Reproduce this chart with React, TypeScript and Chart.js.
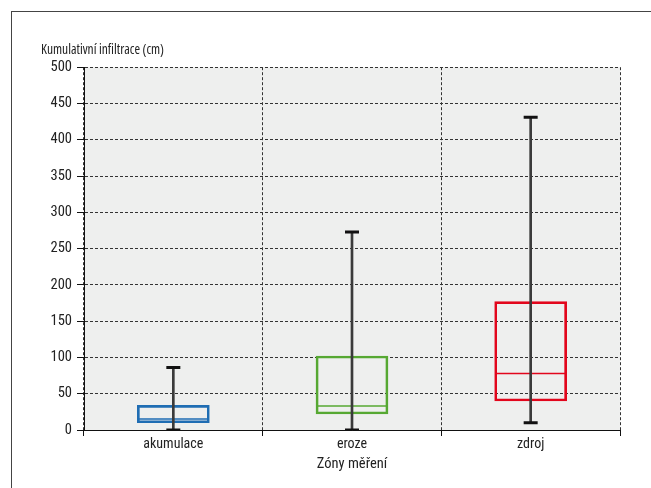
import React, { useEffect, useRef } from "react";
import { Chart, registerables } from "chart.js";

Chart.register(...registerables);

const categories = ["akumulace", "eroze", "zdroj"];
const minValues = [0, 0, 10];
const q1Values = [10, 22, 40];
const medianValues = [15, 33, 78];
const q3Values = [34, 102, 177];
const maxValues = [86, 273, 431];
const yMin = 0;
const yMax = 500;
const yStep = 50;
const yAxisTitle = "Kumulativní infiltrace (cm)";
const xAxisTitle = "Zóny měření";
const boxColors = ["#1f6db3", "#56a832", "#e2061c"];

const FONT = '"Roboto Condensed", Roboto, sans-serif';
const TITLE_FONT = '"Open Sans", sans-serif';

const bgPlugin = {
  id: "plotBg",
  beforeDraw(chart: any) {
    const { ctx, chartArea } = chart;
    if (!chartArea) return;
    ctx.save();
    ctx.fillStyle = "#eeefee";
    ctx.fillRect(chartArea.left, chartArea.top, chartArea.right - chartArea.left, chartArea.bottom - chartArea.top);
    ctx.restore();
  },
};

export default function App() {
  const ref = useRef<HTMLCanvasElement | null>(null);

  useEffect(() => {
    if (!ref.current) return;
    Chart.defaults.font.family = FONT;
    const capStyle = {
      type: "line",
      showLine: false,
      pointStyle: "line",
      pointRadius: 7,
      pointHoverRadius: 7,
      pointBorderWidth: 3,
      pointBorderColor: "#111",
      borderColor: "#111",
      clip: 0,
    };
    const chart = new Chart(ref.current, {
      type: "bar",
      data: {
        labels: categories,
        datasets: [
          { ...capStyle, data: maxValues } as any,
          { ...capStyle, data: minValues } as any,
          {
            type: "bar",
            data: minValues.map((m, i) => [m, maxValues[i]]),
            backgroundColor: "#3a3a3a",
            borderWidth: 0,
            barThickness: 2,
            grouped: false,
          } as any,
          {
            type: "line",
            data: medianValues,
            showLine: false,
            pointStyle: "line",
            pointRadius: 35,
            pointHoverRadius: 35,
            pointBorderWidth: 1.5,
            pointBorderColor: boxColors,
            borderColor: boxColors,
          } as any,
          {
            type: "bar",
            data: q1Values.map((q, i) => [q, q3Values[i]]),
            backgroundColor: "rgba(0,0,0,0)",
            borderColor: boxColors,
            borderWidth: 2,
            borderSkipped: false,
            barThickness: 72,
            grouped: false,
          } as any,
        ],
      },
      options: {
        animation: false,
        responsive: true,
        maintainAspectRatio: false,
        layout: { autoPadding: false, padding: { left: 41, right: 31, top: 0, bottom: 0 } } as any,
        plugins: {
          legend: { display: false },
          tooltip: { enabled: false },
          title: {
            display: true,
            text: yAxisTitle,
            align: "start",
            color: "#222",
            font: { size: 13.5, weight: "condensed", family: TITLE_FONT } as any,
            padding: { top: 42, bottom: 9 },
          },
        },
        scales: {
          x: {
            offset: true,
            afterFit: (s: any) => {
              s.height = 58;
            },
            grid: {
              offset: true,
              color: "#333",
              lineWidth: 1,
              tickLength: 6,
              tickColor: "#111",
              tickWidth: 1,
              tickBorderDash: [],
            } as any,
            border: { display: true, color: "#111", width: 1, dash: [3, 2], z: 1 } as any,
            ticks: { color: "#222", font: { size: 14, family: FONT }, padding: 0 },
            title: {
              display: true,
              text: xAxisTitle,
              color: "#222",
              font: { size: 14.5, family: FONT },
              padding: { top: 0, bottom: 15 },
            },
          },
          y: {
            min: yMin,
            max: yMax,
            afterFit: (s: any) => {
              s.width = 43;
            },
            grid: {
              color: "#333",
              lineWidth: 1,
              tickLength: 7,
              tickColor: "#111",
              tickBorderDash: [],
            } as any,
            border: { display: true, color: "#111", width: 1, dash: [3, 2] } as any,
            ticks: {
              stepSize: yStep,
              color: "#222",
              font: { size: 14.5, family: FONT },
              padding: 5,
            },
          },
        },
      },
      plugins: [bgPlugin],
    });
    return () => chart.destroy();
  }, []);

  return (
    <div style={{ position: "absolute", left: 0, top: 0, width: 651, height: 488, overflow: "hidden", background: "#fff" }}>
      <div
        style={{
          position: "absolute",
          left: 11,
          top: 11,
          width: 700,
          height: 600,
          borderTop: "1.5px solid #444",
          borderLeft: "1.5px solid #444",
        }}
      />
      <canvas ref={ref} style={{ position: "absolute", left: 0, top: 0 }} />
    </div>
  );
}
